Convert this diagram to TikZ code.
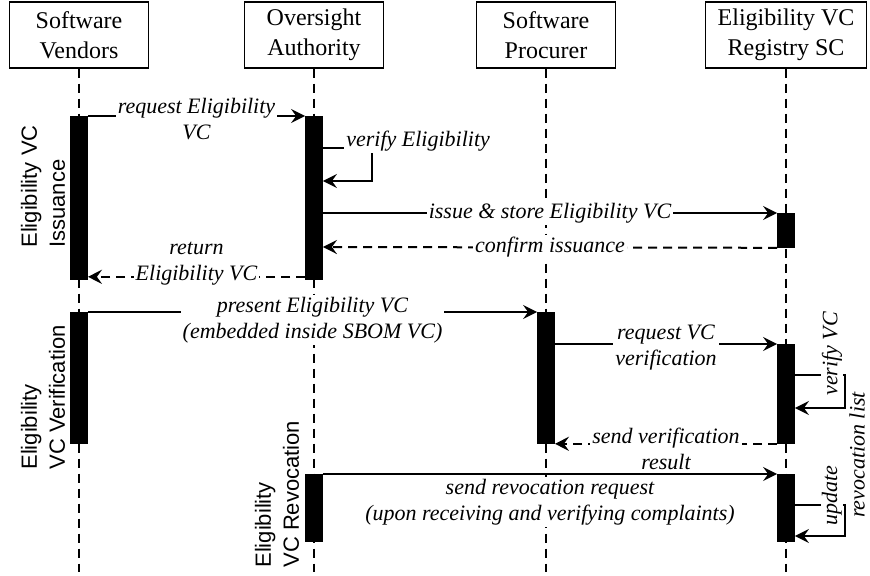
\documentclass[tikz,border=0pt]{standalone}
\usepackage{fontspec}
\setmainfont{Liberation Serif}
\setsansfont{Liberation Sans}
\usetikzlibrary{arrows.meta}
\usetikzlibrary{calc}
\tikzset{
    actor/.style={
           rectangle,
           draw=black, line width=0.7pt,
           minimum width=69.5pt, minimum height=33pt,
           inner xsep=6pt,
           align=center,
           font=\fontsize{12}{15}\selectfont,
           },
}
\tikzset{
    bar/.style={
           rectangle,
           draw=black, fill=black,
           minimum width=8.5pt,
           inner sep=0pt,
           anchor=north,
           },
}
\tikzset{
    lifeline/.style={
           black, line width=1pt,
           dash pattern=on 4.5pt off 3pt,
           },
}
\tikzset{
    msg/.style={
           black, line width=1pt,
           -{Stealth[length=7pt,width=7pt,inset=2.5pt]},
           },
}
\tikzset{
    reply/.style={
           msg,
           dash pattern=on 4.5pt off 3pt,
           },
}
\tikzset{
    lbl/.style={
           fill=white,
           inner sep=1pt,
           align=center,
           font=\fontsize{11}{13}\selectfont\itshape,
           },
}
\tikzset{
    phase/.style={
           rotate=90,
           anchor=west,
           align=left,
           inner sep=1pt,
           font=\fontsize{11}{14}\selectfont\sffamily,
           },
}

\begin{document}
\begin{tikzpicture}[x=0.5pt,y=-0.5pt]
\useasboundingbox (0,0) rectangle (870,575);
\node[actor](SV) at (79,35){Software\\Vendors};
\node[actor](OA) at (314,35){Oversight\\Authority};
\node[actor](SP) at (546,35){Software\\Procurer};
\node[actor](RSC) at (786,35){Eligibility VC\\Registry SC};
\coordinate (SVe) at (79,572);
\coordinate (OAe) at (314,572);
\coordinate (SPe) at (546,572);
\coordinate (RSCe) at (786,572);
\path (SV.south) edge[lifeline] (SVe);
\path (OA.south) edge[lifeline] (OAe);
\path (SP.south) edge[lifeline] (SPe);
\path (RSC.south) edge[lifeline] (RSCe);
% activation bars
\node[bar,minimum height=81.5pt](V1) at (79,116){};
\node[bar,minimum height=81.5pt](O1) at (314,116){};
\node[bar,minimum height=17pt](R1) at (786,213){};
\node[bar,minimum height=65.5pt](V2) at (79,312){};
\node[bar,minimum height=65.5pt](P2) at (546,312){};
\node[bar,minimum height=49.5pt](R2) at (786,344){};
\node[bar,minimum height=33.5pt](O3) at (314,474){};
\node[bar,minimum height=33.5pt](R3) at (786,474){};
% issuance
\path (V1.north east) edge[msg] node[lbl,yshift=-1.5pt]{request Eligibility\\VC} (O1.north west);
\draw[msg] ($(O1.north east)+(0,32)$) -- ++(49,0) -- ++(0,33) -- ($(O1.north east)+(0,65)$);
\node[lbl,anchor=west](VEl) at ($(O1.north east)+(21,25)$){verify Eligibility};
\path ($(O1.north east)+(0,97)$) edge[msg] node[lbl]{issue \& store Eligibility VC} (R1.north west);
\path (R1.south west) edge[reply] node[lbl]{confirm issuance} ($(O1.north east)+(0,131)$);
\path ($(O1.south west)+(0,-3)$) edge[reply] node[lbl,yshift=6.5pt]{return\\Eligibility VC} ($(V1.south east)+(0,-3)$);
% verification
\path (V2.north east) edge[msg] node[lbl,yshift=-4pt]{present Eligibility VC\\(embedded inside SBOM VC)} (P2.north west);
\path (P2.east |- R2.north) edge[msg] node[lbl,yshift=-2pt]{request VC\\verification} (R2.north west);
\draw[msg] ($(R2.north east)+(0,31)$) -- ++(50,0) -- ++(0,33) -- ($(R2.north east)+(0,64)$);
\node[lbl,rotate=90,anchor=west,inner sep=0.5pt](VVl) at ($(R2.north east)+(37,53)$){verify VC};
\path (R2.south west) edge[reply] node[lbl,yshift=-2.5pt]{send verification\\result} (P2.east |- R2.south);
% revocation
\path (O3.north east) edge[msg] node[lbl,below,yshift=-1pt]{send revocation request\\(upon receiving and verifying complaints)} (R3.north west);
\draw[msg] ($(R3.north east)+(0,31)$) -- ++(50,0) -- ++(0,31) -- ($(R3.north east)+(0,62)$);
\node[lbl,rotate=90,anchor=west,inner sep=0.5pt](UPl) at ($(R3.north east)+(37,53)$){update};
\node[lbl,rotate=90,inner sep=0.5pt](RLl) at (857,455){revocation list};
% phases
\node[phase](IssP) at (43,250){Eligibility VC\\Issuance};
\node[phase](VerP) at (43,472){Eligibility\\VC Verification};
\node[phase](RevP) at (277,570){Eligibility\\VC Revocation};
\end{tikzpicture}
\end{document}
